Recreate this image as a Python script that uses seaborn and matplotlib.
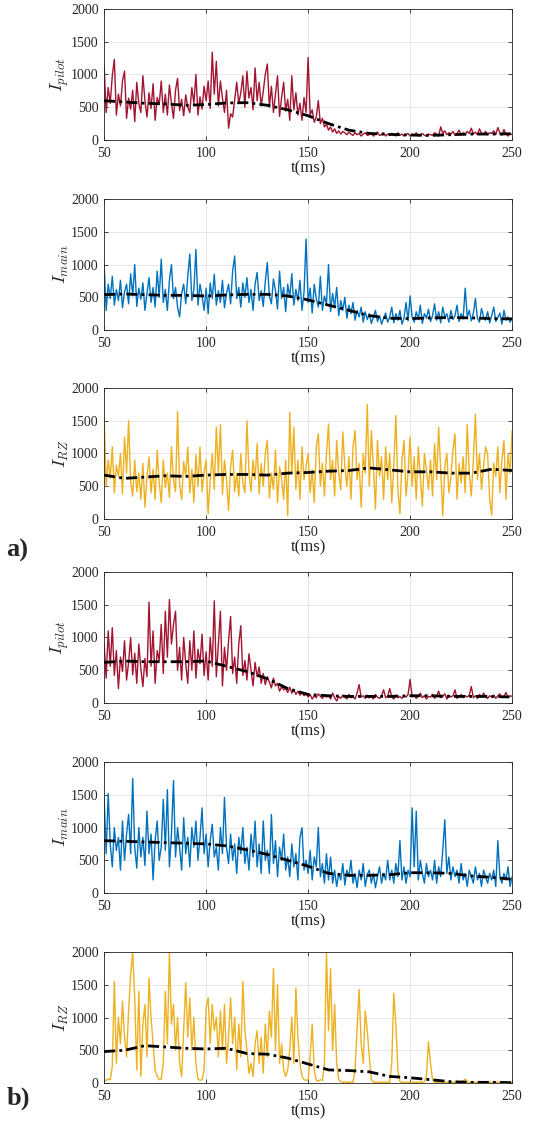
import numpy as np
import pandas as pd
import matplotlib
matplotlib.use("Agg")
import matplotlib.pyplot as plt
import seaborn as sns

sns.set_style("ticks")
plt.rcParams["font.family"] = ["Liberation Serif", "DejaVu Serif"]
plt.rcParams["mathtext.fontset"] = "cm"

RED = "#A2142F"
BLUE = "#0072BD"
YELLOW = "#EDB120"

# sample times (ms), one sample per ms
t = np.arange(50, 251)

# ---------- case a) ----------
a_pilot = [
    1130, 420, 800, 560, 980, 1230, 380, 700, 520, 900,
    1050, 330, 640, 470, 760, 280, 880, 560, 420, 980,
    600, 350, 720, 480, 860, 300, 650, 540, 900, 420,
    700, 380, 840, 560, 330, 760, 940, 450, 620, 370,
    690, 500, 420, 800, 560, 1000, 380, 660, 470, 820,
    600, 900, 480, 1340, 700, 1200, 520, 900, 640, 420,
    760, 180, 400, 350, 620, 880, 560, 720, 980, 500,
    1050, 640, 800, 460, 1100, 600, 880, 520, 740, 1000,
    1160, 500, 820, 420, 700, 980, 360, 650, 880, 440,
    620, 300, 980, 460, 720, 380, 560, 300, 650, 420,
    1260, 380, 460, 270, 350, 600, 250, 330, 200, 240,
    150, 200, 120, 170, 100, 140, 90, 130, 110, 80,
    120, 90, 70, 110, 80, 100, 60, 90, 110, 70,
    80, 100, 60, 90, 120, 70, 80, 110, 60, 90,
    70, 100, 80, 60, 110, 70, 90, 60, 80, 100,
    60, 90, 70, 110, 60, 80, 100, 70, 60, 90,
    80, 70, 110, 90, 60, 200, 100, 140, 80, 110,
    90, 130, 70, 100, 150, 80, 110, 90, 130, 100,
    180, 90, 120, 80, 170, 100, 90, 130, 80, 110,
    100, 140, 80, 190, 110, 70, 160, 90, 60, 100,
    80,
]
a_main = [
    1000, 300, 700, 480, 820, 380, 620, 450, 760, 340,
    580, 700, 400, 860, 520, 1000, 360, 640, 470, 720,
    300, 560, 800, 420, 650, 350, 900, 500, 1080, 420,
    620, 300, 760, 1000, 480, 650, 350, 200, 560, 700,
    400, 820, 1160, 450, 620, 1230, 380, 700, 520, 300,
    640, 250, 720, 480, 850, 380, 600, 420, 760, 340,
    560, 700, 400, 900, 1130, 480, 650, 350, 720, 500,
    800, 420, 620, 300, 700, 880, 450, 600, 360, 740,
    1030, 520, 400, 780, 600, 320, 900, 480, 650, 280,
    700, 500, 860, 380, 620, 450, 760, 300, 580, 1390,
    420, 640, 260, 700, 480, 350, 820, 300, 520, 400,
    1000, 280, 560, 350, 650, 220, 450, 300, 500, 180,
    380, 250, 420, 150, 300, 200, 350, 120, 280, 160,
    250, 100, 200, 300, 130, 220, 90, 180, 260, 120,
    200, 350, 110, 250, 150, 300, 90, 180, 420, 140,
    520, 200, 120, 280, 160, 380, 100, 250, 180, 320,
    130, 220, 400, 150, 280, 110, 350, 190, 250, 120,
    300, 160, 220, 380, 130, 250, 170, 640, 200, 300,
    140, 260, 480, 180, 120, 330, 200, 150, 280, 110,
    220, 350, 130, 190, 260, 90, 300, 150, 200, 120,
    180,
]
a_rz = [
    1580, 500, 900, 620, 1100, 400, 820, 650, 1000, 380,
    1250, 700, 1500, 560, 350, 900, 420, 700, 300, 850,
    180, 640, 950, 400, 760, 300, 1050, 560, 250, 900,
    480, 700, 330, 1100, 600, 420, 1640, 520, 300, 880,
    650, 1100, 400, 760, 250, 980, 500, 1100, 420, 700,
    900, 80, 600, 1000, 450, 1400, 700, 1440, 380, 900,
    600, 130, 800, 1050, 420, 700, 350, 1000, 550, 400,
    1500, 700, 420, 900, 600, 1150, 380, 850, 500, 1000,
    1200, 320, 700, 450, 1050, 250, 800, 600, 300, 900,
    50, 1630, 700, 1400, 450, 900, 300, 1100, 600, 800,
    1000, 400, 750, 250, 1100, 1300, 500, 850, 350, 1000,
    1450, 600, 900, 350, 1200, 700, 450, 1330, 800, 500,
    950, 300, 1100, 1350, 600, 850, 180, 1000, 700, 1750,
    500, 1350, 800, 150, 1200, 650, 950, 300, 1100, 600,
    1000, 250, 800, 1580, 450, 80, 900, 1200, 350, 700,
    1250, 500, 950, 300, 1100, 650, 200, 1000, 750, 450,
    900, 350, 1150, 600, 1400, 750, 50, 800, 1000, 400,
    650, 1050, 1300, 300, 850, 550, 950, 400, 1440, 700,
    350, 900, 1600, 600, 1000, 450, 800, 1100, 1000, 300,
    60, 850, 650, 1100, 400, 900, 1200, 300, 1000, 700,
    1350,
]

# ---------- case b) ----------
b_pilot = [
    900, 380, 1100, 560, 1150, 420, 800, 220, 700, 480,
    950, 350, 620, 1000, 430, 760, 300, 900, 520, 250,
    680, 400, 1540, 560, 1100, 300, 800, 650, 1200, 450,
    1400, 700, 1580, 900, 1200, 1400, 500, 850, 350, 1000,
    600, 300, 950, 500, 1100, 380, 820, 600, 1050, 420,
    780, 350, 1000, 560, 1560, 400, 900, 1400, 260, 850,
    500, 950, 1320, 450, 700, 300, 900, 1180, 420, 650,
    350, 750, 500, 260, 620, 400, 550, 300, 450, 280,
    400, 320, 230, 380, 260, 300, 180, 250, 200, 220,
    160, 240, 150, 200, 130, 180, 120, 160, 110, 140,
    90, 130, 60, 110, 80, 140, 100, 70, 120, 90,
    110, 60, 150, 80, 30, 100, 70, 120, 90, 60,
    130, 80, 100, 60, 150, 280, 90, 110, 70, 120,
    80, 100, 60, 130, 90, 70, 110, 200, 80, 100,
    220, 90, 60, 120, 80, 100, 70, 110, 90, 130,
    360, 90, 120, 70, 100, 150, 80, 110, 60, 100,
    90, 130, 70, 110, 180, 80, 100, 140, 60, 120,
    90, 110, 200, 70, 100, 130, 80, 110, 90, 120,
    250, 80, 110, 70, 130, 90, 150, 100, 70, 110,
    90, 120, 70, 110, 140, 80, 100, 160, 90, 110,
    100,
]
b_main = [
    1450, 600, 1520, 750, 400, 1000, 650, 850, 350, 1100,
    500, 900, 1200, 600, 1750, 700, 380, 1000, 550, 850,
    420, 1250, 600, 900, 200, 800, 1100, 500, 700, 1430,
    650, 1580, 400, 900, 1720, 550, 1000, 700, 350, 1150,
    600, 850, 400, 1000, 700, 1100, 500, 850, 1300, 600,
    900, 400, 800, 1050, 550, 700, 350, 1000, 600, 1460,
    700, 450, 900, 500, 750, 300, 850, 600, 1000, 450,
    700, 350, 900, 550, 1100, 400, 750, 300, 1100, 500,
    650, 300, 1200, 450, 800, 250, 700, 500, 900, 350,
    550, 250, 750, 400, 600, 200, 850, 1000, 350, 500,
    300, 650, 200, 550, 400, 1000, 250, 450, 150, 600,
    200, 550, 150, 350, 100, 300, 200, 450, 120, 350,
    250, 500, 150, 300, 80, 350, 200, 450, 100, 280,
    350, 150, 300, 80, 250, 400, 150, 300, 200, 500,
    200, 350, 150, 450, 250, 800, 200, 400, 150, 350,
    250, 1300, 400, 1250, 200, 500, 300, 150, 450, 250,
    350, 200, 500, 150, 400, 250, 650, 1120, 300, 550,
    200, 400, 250, 350, 150, 450, 200, 300, 100, 350,
    250, 150, 400, 200, 300, 100, 350, 250, 150, 300,
    200, 350, 100, 800, 250, 150, 300, 200, 400, 100,
    250,
]
b_rz = [
    50, 40, 60, 50, 250, 1550, 300, 1000, 600, 1250,
    700, 400, 1100, 1650, 2000, 1300, 200, 1400, 100, 900,
    1200, 400, 1600, 1000, 600, 200, 100, 50, 60, 300,
    1400, 600, 2000, 900, 1200, 500, 1000, 300, 100, 800,
    1530, 700, 1300, 500, 1000, 300, 60, 40, 50, 200,
    1150, 1300, 600, 1200, 800, 1000, 400, 1100, 500, 1200,
    300, 700, 1300, 600, 1000, 200, 900, 400, 1550, 800,
    500, 150, 300, 100, 600, 800, 300, 700, 150, 900,
    400, 1100, 700, 1750, 500, 1500, 300, 600, 200, 100,
    200, 500, 1000, 300, 1450, 700, 300, 100, 50, 40,
    50, 400, 900, 200, 40, 30, 50, 40, 300, 2000,
    800, 1750, 500, 1200, 300, 50, 20, 10, 15, 10,
    10, 15, 10, 200, 800, 1430, 600, 300, 1100, 800,
    400, 50, 15, 10, 10, 15, 10, 10, 15, 10,
    10, 300, 1370, 900, 200, 20, 10, 10, 15, 10,
    10, 15, 10, 10, 10, 15, 10, 20, 100, 630,
    300, 50, 15, 10, 10, 20, 10, 15, 10, 10,
    10, 15, 10, 10, 20, 10, 30, 60, 20, 10,
    10, 10, 15, 10, 10, 10, 15, 10, 10, 10,
    10, 10, 10, 15, 10, 10, 10, 10, 10, 10,
    10,
]

# smoothed mean curves (black dash-dot), every 10 ms
t_mean = np.arange(50, 251, 10)
a_pilot_mean = [600, 580, 560, 550, 530, 540, 565, 570, 530, 460, 370,
                250, 150, 100, 85, 75, 70, 80, 90, 90, 95]
a_main_mean = [540, 550, 540, 530, 530, 520, 535, 545, 545, 520, 460,
               380, 300, 220, 180, 175, 185, 190, 185, 175, 170]
a_rz_mean = [670, 620, 640, 660, 650, 670, 680, 680, 670, 700, 710,
             730, 740, 780, 750, 720, 720, 700, 700, 760, 740]
b_pilot_mean = [620, 640, 630, 630, 630, 640, 560, 480, 370, 220, 130,
                110, 100, 100, 100, 110, 110, 100, 100, 100, 90]
b_main_mean = [800, 790, 780, 770, 760, 750, 720, 660, 590, 500, 410,
               300, 270, 270, 280, 310, 310, 300, 260, 240, 210]
b_rz_mean = [480, 500, 570, 550, 530, 520, 530, 450, 440, 380, 290,
             200, 190, 170, 100, 80, 50, 20, 10, 10, 5]

panels = [
    (a_pilot, a_pilot_mean, RED, r"$I_{pilot}$"),
    (a_main, a_main_mean, BLUE, r"$I_{main}$"),
    (a_rz, a_rz_mean, YELLOW, r"$I_{RZ}$"),
    (b_pilot, b_pilot_mean, RED, r"$I_{pilot}$"),
    (b_main, b_main_mean, BLUE, r"$I_{main}$"),
    (b_rz, b_rz_mean, YELLOW, r"$I_{RZ}$"),
]

fig = plt.figure(figsize=(5.34, 11.26), dpi=100)
bottoms = [0.8757, 0.7069, 0.5391, 0.3757, 0.2069, 0.0382]

for (sig, mean, color, ylab), b in zip(panels, bottoms):
    ax = fig.add_axes([0.195, b, 0.764, 0.1163])
    df = pd.DataFrame({"t": t, "I": sig})
    sns.lineplot(data=df, x="t", y="I", ax=ax, color=color, linewidth=1.0,
                 estimator=None, zorder=2)
    ax.plot(t_mean, mean, color="black", linestyle="-.", linewidth=2.0,
            dashes=(4, 1.5, 1, 1.5), zorder=3)
    ax.set_xlim(50, 250)
    ax.set_ylim(0, 2000)
    ax.set_xticks([50, 100, 150, 200, 250])
    ax.set_yticks([0, 500, 1000, 1500, 2000])
    ax.grid(True, color="#e3e3e3", linewidth=0.6, zorder=0)
    ax.set_axisbelow(True)
    ax.tick_params(direction="in", top=True, right=True, length=3,
                   width=0.6, labelsize=10, colors="#262626")
    ax.tick_params(axis="x", pad=5)
    ax.tick_params(axis="y", pad=4)
    for sp in ax.spines.values():
        sp.set_visible(True)
        sp.set_color("#262626")
        sp.set_linewidth(0.6)
    ax.set_xlabel("t(ms)", fontsize=12, labelpad=0, color="#262626")
    ax.set_ylabel(ylab, fontsize=13, labelpad=0, color="#262626")

fig.text(0.012, 0.5115, "a)", fontsize=19, fontweight="bold", va="center")
fig.text(0.012, 0.0249, "b)", fontsize=19, fontweight="bold", va="center")

fig.savefig("out.png", dpi=100)
